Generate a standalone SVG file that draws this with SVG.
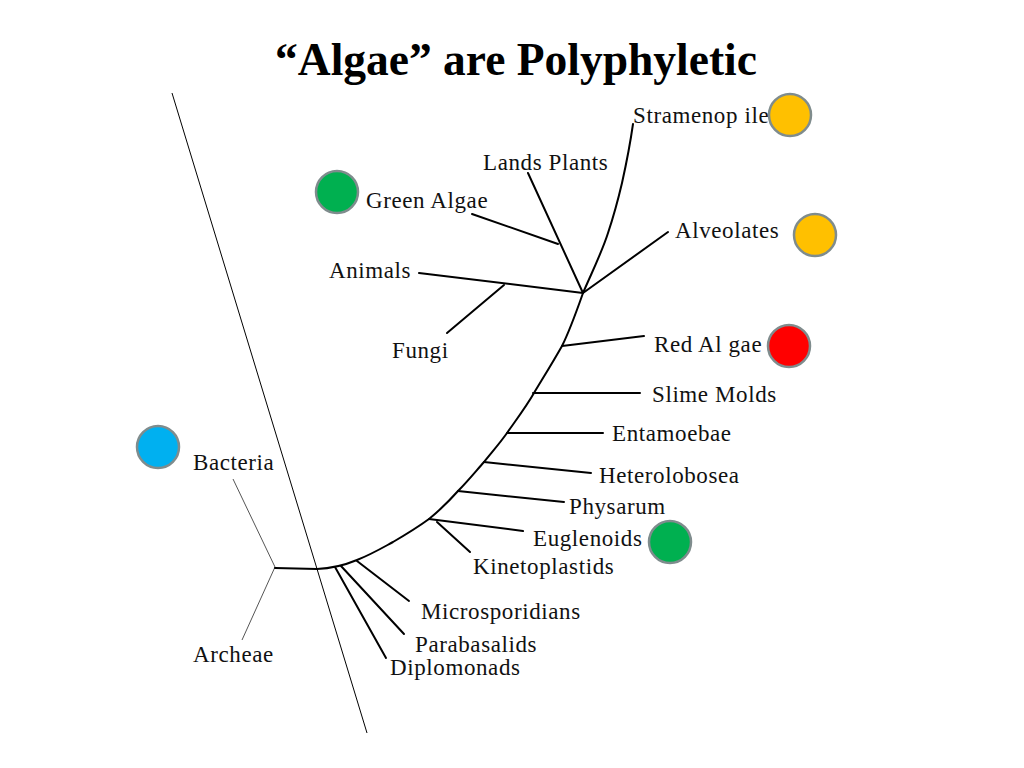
<svg xmlns="http://www.w3.org/2000/svg" width="1024" height="768" viewBox="0 0 1024 768">
<style>
.t{font-family:"Liberation Serif","Times New Roman",serif;font-size:23px;letter-spacing:0.6px;fill:#111}
.title{font-family:"Liberation Serif","Times New Roman",serif;font-size:45.5px;font-weight:bold;fill:#000}
.br{fill:none;stroke:#000;stroke-width:2;stroke-linecap:round}
.thin{fill:none;stroke:#555;stroke-width:1}
.dot{stroke:#7f8c8d;stroke-width:2.5}
</style>
<rect width="1024" height="768" fill="#fff"/>
<text class="title" x="516" y="75" text-anchor="middle">“Algae” are Polyphyletic</text>
<g id="connectors">
<line x1="172" y1="93" x2="367" y2="733" stroke="#000" stroke-width="1"/>
<path class="thin" d="M233,479 L275,567 L242,640"/>
<path class="br" d="M275,568 L317,569 C330,568.5 345,565 357,560 C372,554 382,548 393,542 C405,535 418,527 429,519 C440,510 450,500 458,491 C468,481 476,471 484,462 C492,452 500,443 507,433 C516,420 526,407 534,393 C543,378 553,362 562,346 C570,330 577,310 583,293 C592,272 602,252 608,233 C614,215 618,200 622,183 C626,165 630,145 633,124"/>
<path class="br" d="M583,293 L528,173"/>
<path class="br" d="M558,244 L472,214"/>
<path class="br" d="M583,293 L419,273"/>
<path class="br" d="M504,285 L447,333"/>
<path class="br" d="M583,293 L668,232"/>
<path class="br" d="M562,346 L644,336"/>
<path class="br" d="M533,393 L640,393"/>
<path class="br" d="M507,433 L603,433"/>
<path class="br" d="M484,462 L591,473"/>
<path class="br" d="M458,491 L564,502"/>
<path class="br" d="M429,519 L523,531"/>
<path class="br" d="M437,522 L470,552"/>
<path class="br" d="M357,561 L409,601"/>
<path class="br" d="M341,566 L404,634"/>
<path class="br" d="M335,567 L386,658"/>
</g>
<g id="stramenopiles"><text class="t" x="633" y="123">Stramenop iles</text><circle class="dot" cx="790" cy="115" r="21" fill="#FFC000"/></g>
<g id="land-plants"><text class="t" x="483" y="170">Lands Plants</text></g>
<g id="green-algae"><circle class="dot" cx="337" cy="192" r="21" fill="#00B050"/><text class="t" x="366" y="208">Green Algae</text></g>
<g id="animals"><text class="t" x="329" y="278">Animals</text></g>
<g id="fungi"><text class="t" x="392" y="358">Fungi</text></g>
<g id="alveolates"><text class="t" x="675" y="238">Alveolates</text><circle class="dot" cx="815" cy="235" r="21" fill="#FFC000"/></g>
<g id="red-algae"><text class="t" x="654" y="352">Red Al gae</text><circle class="dot" cx="789" cy="346" r="21" fill="#FF0000"/></g>
<g id="slime-molds"><text class="t" x="652" y="402">Slime Molds</text></g>
<g id="entamoebae"><text class="t" x="612" y="441">Entamoebae</text></g>
<g id="heterolobosea"><text class="t" x="599" y="483">Heterolobosea</text></g>
<g id="physarum"><text class="t" x="569" y="514">Physarum</text></g>
<g id="euglenoids"><text class="t" x="533" y="546">Euglenoids</text><circle class="dot" cx="670" cy="542" r="21" fill="#00B050"/></g>
<g id="kinetoplastids"><text class="t" x="473" y="574">Kinetoplastids</text></g>
<g id="microsporidians"><text class="t" x="421" y="619">Microsporidians</text></g>
<g id="parabasalids"><text class="t" x="415" y="652">Parabasalids</text></g>
<g id="diplomonads"><text class="t" x="390" y="675">Diplomonads</text></g>
<g id="bacteria"><circle class="dot" cx="158" cy="447" r="21" fill="#00B0F0"/><text class="t" x="193" y="470">Bacteria</text></g>
<g id="archeae"><text class="t" x="193" y="662">Archeae</text></g>
</svg>
